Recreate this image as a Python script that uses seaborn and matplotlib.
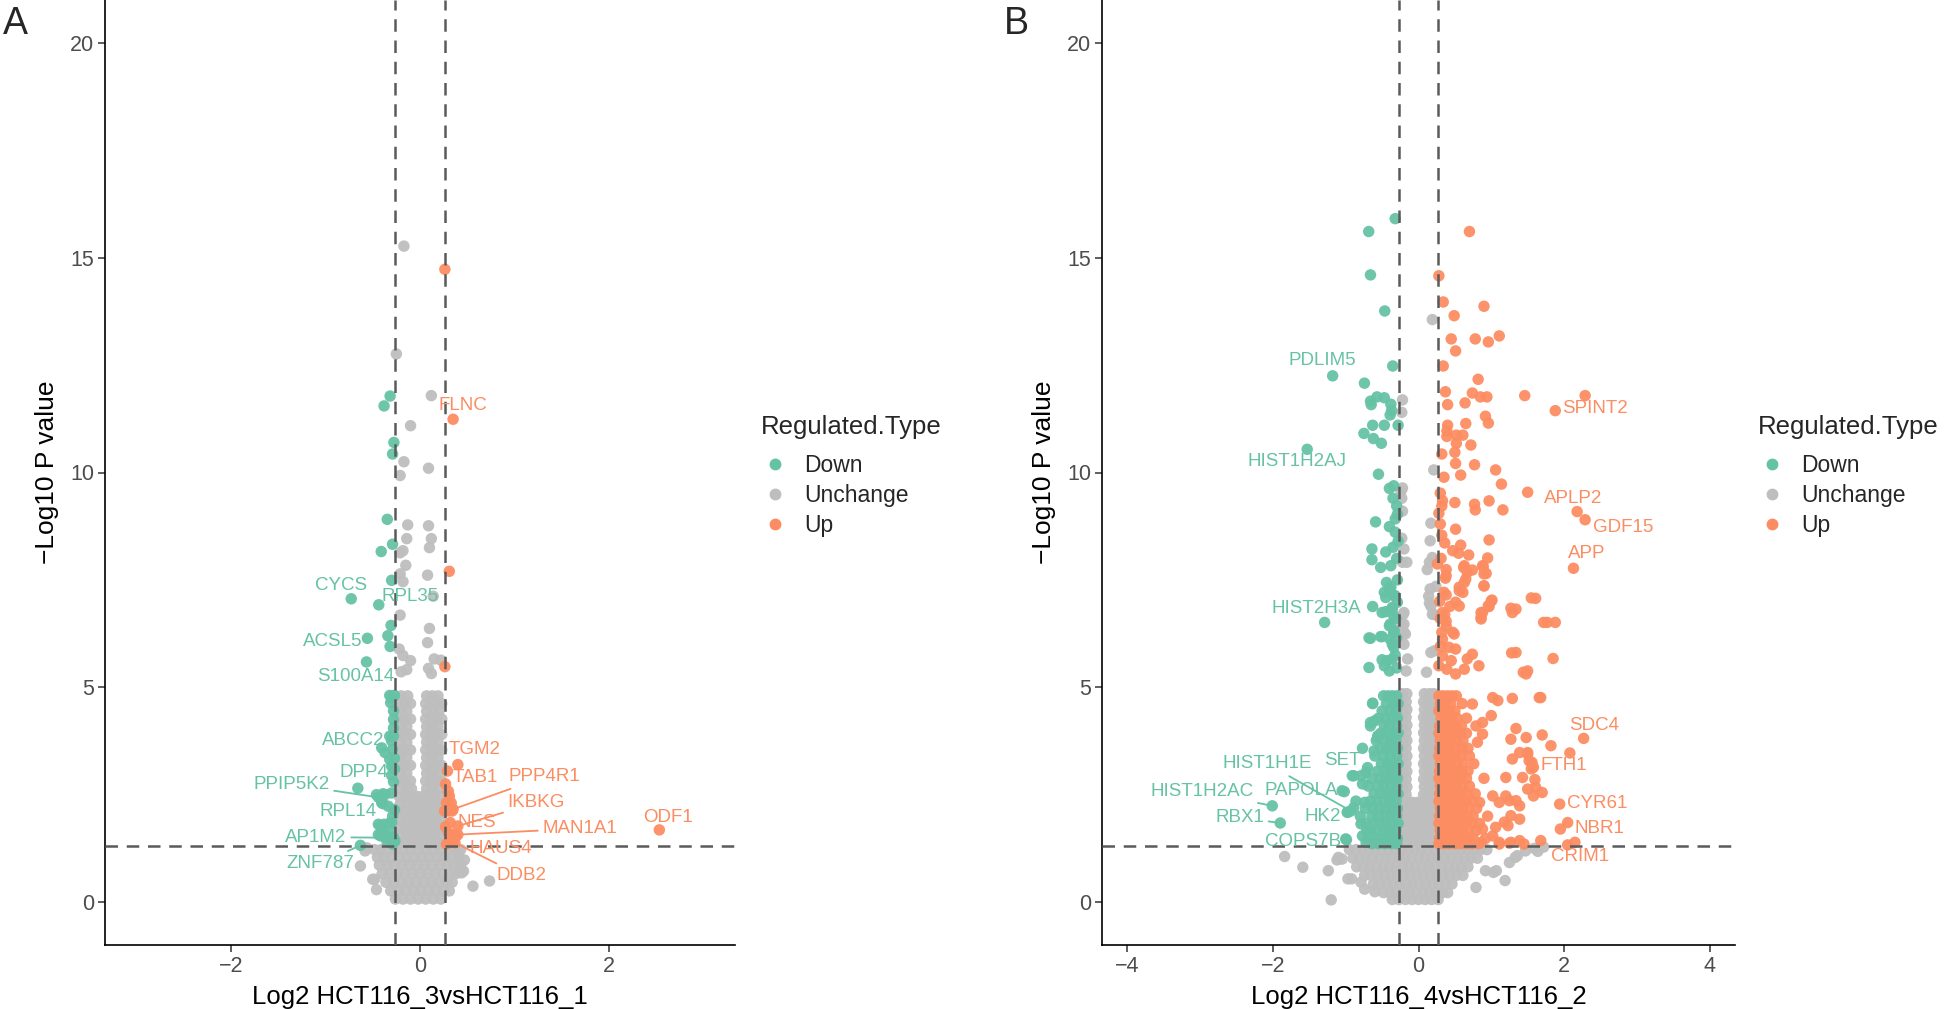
import numpy as np
import pandas as pd
import seaborn as sns
import matplotlib.pyplot as plt
from matplotlib.lines import Line2D

sns.set_theme(style="white")
plt.rcParams['font.family'] = ['Liberation Sans', 'DejaVu Sans']

pal = {"Down": "#66C2A5", "Unchange": "#BEBEBE", "Up": "#FC8D62"}
hue_order = ["Down", "Unchange", "Up"]

# ---------------- panel A : HCT116_3 vs HCT116_1 ----------------
a_down_pts = [
    (-0.316, 11.78), (-0.38, 11.55), (-0.276, 10.70), (-0.29, 10.43), (-0.346, 8.91),
    (-0.29, 8.33), (-0.41, 8.16), (-0.30, 7.49), (-0.727, 7.06), (-0.436, 6.92),
    (-0.306, 6.44), (-0.556, 6.14), (-0.34, 6.20), (-0.316, 5.95), (-0.566, 5.59),
    (-0.32, 4.81), (-0.27, 4.81), (-0.30, 4.76), (-0.31, 4.64), (-0.28, 4.45),
    (-0.28, 4.25), (-0.28, 4.05), (-0.32, 3.86), (-0.28, 3.87), (-0.30, 3.75),
    (-0.405, 3.59), (-0.29, 3.55), (-0.37, 3.48), (-0.32, 3.32), (-0.27, 3.35),
    (-0.30, 3.16), (-0.27, 3.10), (-0.30, 2.95), (-0.28, 2.80), (-0.657, 2.65),
    (-0.46, 2.50), (-0.37, 2.50), (-0.30, 2.54), (-0.44, 2.44), (-0.39, 2.52),
    (-0.405, 2.31), (-0.335, 2.23), (-0.39, 2.29), (-0.27, 2.15), (-0.29, 2.00),
    (-0.44, 1.81), (-0.38, 1.81), (-0.32, 1.84), (-0.30, 1.85), (-0.42, 1.77),
    (-0.32, 1.69), (-0.37, 1.57), (-0.44, 1.57), (-0.416, 1.54), (-0.356, 1.51),
    (-0.28, 1.50), (-0.265, 1.42), (-0.35, 1.42), (-0.29, 1.35), (-0.63, 1.32),
]
a_up_pts = [
    (0.263, 14.73), (0.35, 11.24), (0.31, 7.70), (0.263, 5.48), (0.40, 3.20),
    (0.29, 3.05), (0.27, 2.75), (0.30, 2.58), (0.31, 2.47), (0.28, 2.31),
    (0.33, 2.31), (0.35, 2.16), (0.26, 2.12), (0.30, 2.12), (0.34, 2.12),
    (0.32, 1.85), (0.40, 1.77), (0.27, 1.75), (0.30, 1.61), (0.35, 1.57),
    (0.40, 1.57), (0.38, 1.53), (0.32, 1.46), (0.34, 1.42), (0.37, 1.38),
    (0.28, 1.35), (2.53, 1.68),
]
a_gray_pts = [
    (-0.17, 15.27), (-0.25, 12.76), (0.12, 11.79), (-0.10, 11.09), (-0.17, 10.25),
    (0.09, 10.10), (-0.21, 9.93), (-0.13, 8.78), (0.09, 8.76), (-0.14, 8.46),
    (0.12, 8.46), (-0.18, 8.18), (-0.21, 8.13), (0.10, 8.25), (-0.15, 7.84),
    (-0.21, 7.64), (0.08, 7.61), (-0.18, 7.46), (0.14, 7.12), (-0.21, 6.68),
    (0.10, 6.37), (0.08, 6.04), (-0.22, 5.89), (-0.18, 5.74), (-0.10, 5.62),
    (0.15, 5.66), (0.22, 5.63), (-0.20, 5.36), (0.09, 5.44), (0.12, 5.32),
    (-0.14, 5.41),
    (-0.56, 1.26), (-0.48, 0.53), (-0.46, 0.29), (0.735, 0.49), (0.56, 0.37),
    (0.44, 0.68), (0.40, 1.15), (-0.63, 0.84), (-0.58, 1.19), (0.47, 0.98),
    (0.46, 0.72), (-0.50, 0.53),
]
a_gray_rows = [
    (4.80, [-0.20, -0.13, 0.07, 0.13, 0.19]),
    (4.62, [-0.22, -0.15, -0.10, 0.06, 0.12, 0.18, 0.23]),
    (4.44, [-0.21, -0.14, 0.07, 0.14, 0.20]),
    (4.26, [-0.22, -0.16, -0.10, 0.06, 0.12, 0.18, 0.23]),
    (4.08, [-0.21, -0.14, 0.07, 0.13, 0.19]),
    (3.90, [-0.22, -0.16, -0.10, 0.06, 0.12, 0.18, 0.23]),
    (3.72, [-0.21, -0.14, 0.07, 0.13, 0.19]),
    (3.54, [-0.22, -0.16, -0.10, 0.06, 0.12, 0.18, 0.23]),
    (3.36, [-0.21, -0.14, 0.07, 0.13, 0.19]),
    (3.18, [-0.22, -0.16, -0.10, 0.06, 0.12, 0.18, 0.23]),
    (3.00, [-0.21, -0.14, 0.07, 0.13, 0.19]),
    (2.82, [-0.22, -0.16, -0.10, 0.06, 0.12, 0.18, 0.23]),
    (2.64, [-0.21, -0.14, -0.09, 0.07, 0.13, 0.19]),
    (2.46, [-0.22, -0.15, -0.09, -0.03, 0.03, 0.09, 0.15, 0.21]),
    (2.28, [-0.21, -0.14, -0.08, -0.02, 0.04, 0.10, 0.16, 0.22]),
    (2.10, [-0.22, -0.15, -0.09, -0.03, 0.03, 0.09, 0.15, 0.21]),
    (1.92, [-0.21, -0.14, -0.08, -0.02, 0.04, 0.10, 0.16, 0.22]),
    (1.74, [-0.22, -0.15, -0.09, -0.03, 0.03, 0.09, 0.15, 0.21]),
    (1.56, [-0.21, -0.14, -0.08, -0.02, 0.04, 0.10, 0.16, 0.22]),
    (1.38, [-0.22, -0.15, -0.09, -0.03, 0.03, 0.09, 0.15, 0.21]),
    (1.22, [-0.48, -0.41, -0.34, -0.26, -0.18, -0.10, -0.02, 0.06, 0.14, 0.22, 0.30, 0.37, 0.43]),
    (1.04, [-0.45, -0.38, -0.30, -0.22, -0.14, -0.06, 0.02, 0.10, 0.18, 0.26, 0.34, 0.41]),
    (0.86, [-0.43, -0.35, -0.27, -0.19, -0.11, -0.03, 0.05, 0.13, 0.21, 0.29, 0.36, 0.43]),
    (0.66, [-0.40, -0.32, -0.24, -0.16, -0.08, 0.00, 0.08, 0.16, 0.24, 0.32, 0.38]),
    (0.46, [-0.36, -0.28, -0.20, -0.12, -0.04, 0.04, 0.12, 0.20, 0.28, 0.34]),
    (0.26, [-0.31, -0.23, -0.15, -0.07, 0.01, 0.09, 0.17, 0.25, 0.31]),
    (0.07, [-0.26, -0.18, -0.10, -0.02, 0.06, 0.14, 0.22]),
]
a_label_names = ["CYCS", "RPL35", "ACSL5", "S100A14", "ABCC2", "DPP4", "PPIP5K2", "RPL14",
                 "AP1M2", "ZNF787", "FLNC", "TGM2", "TAB1", "PPP4R1", "IKBKG", "NES",
                 "MAN1A1", "HAUS4", "DDB2", "ODF1"]
a_label_types = ["Down"] * 10 + ["Up"] * 10
a_label_pos = [(-0.83, 7.36), (-0.10, 7.12), (-0.92, 6.07), (-0.68, 5.26), (-0.71, 3.76),
               (-0.59, 3.01), (-1.36, 2.74), (-0.76, 2.11), (-1.10, 1.51), (-1.05, 0.90),
               (0.45, 11.55), (0.58, 3.54), (0.58, 2.89), (1.32, 2.92), (1.23, 2.31),
               (0.60, 1.86), (1.69, 1.71), (0.85, 1.24), (1.07, 0.61), (2.62, 1.96)]
a_label_seg = [None, None, None, None, None, None, (-0.45, 2.44), None, (-0.42, 1.50),
               (-0.63, 1.32), None, None, None, (0.35, 2.16), (0.40, 1.77), None,
               (0.40, 1.57), None, (0.37, 1.38), None]

# ---------------- panel B : HCT116_4 vs HCT116_2 ----------------
b_down_pts = [
    (-0.32, 15.91), (-0.684, 15.61), (-0.66, 14.60), (-0.464, 13.76), (-0.354, 12.48),
    (-1.18, 12.25), (-0.743, 12.08), (-0.66, 11.66), (-0.57, 11.76), (-0.47, 11.74),
    (-0.38, 11.59), (-0.65, 11.58), (-0.37, 11.44), (-0.39, 11.34), (-0.63, 11.10),
    (-0.47, 11.10), (-0.28, 11.10), (-0.75, 10.91), (-0.62, 10.79), (-0.51, 10.68),
    (-1.53, 10.54), (-0.55, 9.96), (-0.34, 9.69), (-0.40, 9.63), (-0.35, 9.40),
    (-0.30, 9.22), (-0.29, 9.03), (-0.32, 8.92), (-0.59, 8.85), (-0.40, 8.74),
    (-0.32, 8.61), (-0.64, 8.22), (-0.45, 8.15), (-0.35, 8.26), (-0.64, 7.97),
    (-0.52, 7.79), (-0.38, 7.83), (-0.44, 7.44), (-0.38, 7.33), (-0.32, 7.13),
    (-0.45, 7.09), (-0.63, 6.88), (-0.45, 6.76), (-0.36, 6.86), (-0.34, 6.66),
    (-1.29, 6.51), (-0.40, 6.43), (-0.34, 6.28), (-0.66, 6.14), (-0.50, 6.18),
    (-0.36, 6.00), (-0.47, 7.21), (-0.40, 7.29), (-0.335, 7.13), (-0.50, 6.74),
    (-0.36, 6.82), (-0.29, 6.98), (-0.39, 6.47), (-0.335, 6.32), (-0.39, 6.12),
    (-0.34, 5.93), (-0.68, 6.15), (-0.52, 6.18), (-0.50, 5.64), (-0.43, 5.62),
    (-0.36, 5.66), (-0.47, 5.50), (-0.40, 5.38), (-0.68, 5.46), (-0.30, 5.45),
    (-0.32, 5.75), (-0.30, 6.15), (-0.31, 6.60), (-0.29, 7.50), (-0.30, 8.00),
    (-0.28, 8.40),
    (-2.01, 2.24), (-1.90, 1.84), (-1.02, 2.57), (-0.89, 2.94), (-0.97, 2.09),
    (-0.99, 1.45), (-0.77, 3.58), (-0.63, 4.63), (-0.56, 3.83), (-0.60, 4.22),
    (-0.72, 3.02), (-0.77, 2.75), (-0.74, 2.32), (-0.71, 1.66), (-0.72, 1.39),
    (-0.66, 4.18), (-0.56, 3.87), (-0.61, 3.52), (-0.91, 2.94), (-0.79, 2.94),
    (-0.70, 3.13), (-1.05, 2.59), (-0.89, 2.20), (-0.98, 2.09), (-0.79, 1.82),
    (-0.77, 1.54), (-1.00, 1.47), (-0.93, 2.12),
]
b_down_rows = [
    (4.80, [-0.30, -0.36, -0.42, -0.48]),
    (4.62, [-0.28, -0.35, -0.44, -0.63]),
    (4.45, [-0.31, -0.39, -0.50]),
    (4.28, [-0.29, -0.36, -0.45, -0.55]),
    (4.10, [-0.30, -0.40, -0.47, -0.66]),
    (3.93, [-0.28, -0.35, -0.43, -0.52]),
    (3.76, [-0.31, -0.38, -0.46, -0.58]),
    (3.58, [-0.29, -0.36, -0.44, -0.52]),
    (3.40, [-0.30, -0.39, -0.48, -0.60]),
    (3.22, [-0.28, -0.35, -0.43, -0.51]),
    (3.05, [-0.31, -0.38, -0.46, -0.56]),
    (2.88, [-0.29, -0.37, -0.45, -0.53, -0.64]),
    (2.70, [-0.30, -0.38, -0.47, -0.56, -0.69]),
    (2.52, [-0.28, -0.36, -0.44, -0.52, -0.61]),
    (2.35, [-0.31, -0.39, -0.47, -0.57, -0.66, -0.86]),
    (2.18, [-0.29, -0.36, -0.45, -0.54, -0.63, -0.73]),
    (2.00, [-0.30, -0.38, -0.46, -0.55, -0.64, -0.80]),
    (1.83, [-0.28, -0.37, -0.45, -0.53, -0.62, -0.72]),
    (1.66, [-0.31, -0.39, -0.47, -0.56, -0.66]),
    (1.48, [-0.29, -0.36, -0.44, -0.52, -0.60, -0.69]),
    (1.36, [-0.30, -0.38, -0.46, -0.55, -0.64]),
]
b_up_pts = [
    (0.70, 15.61), (0.28, 14.58), (0.34, 13.97), (0.90, 13.87), (0.49, 13.65),
    (0.45, 13.11), (0.78, 13.11), (0.96, 13.04), (1.11, 13.18), (0.51, 12.83),
    (0.34, 12.48), (0.82, 12.17), (0.37, 11.88), (0.74, 11.85), (0.85, 11.76),
    (0.94, 11.76), (1.46, 11.79), (2.29, 11.79), (0.40, 11.58), (0.64, 11.62),
    (1.88, 11.44), (0.92, 11.31), (0.96, 11.15), (0.65, 11.14), (0.40, 11.10),
    (0.39, 10.97), (0.39, 10.84), (0.52, 10.87), (0.61, 10.87), (0.52, 10.68),
    (0.72, 10.64), (0.32, 10.43), (0.50, 10.47), (0.51, 10.21), (0.77, 10.18),
    (1.06, 10.06), (0.35, 9.89), (0.58, 9.94), (1.14, 9.73), (1.50, 9.54),
    (2.18, 9.09), (2.29, 8.90), (0.30, 9.52), (0.33, 9.34), (0.50, 9.30),
    (0.77, 9.26), (0.97, 9.34), (1.16, 9.13), (0.78, 9.13), (0.28, 9.05),
    (0.32, 9.22), (0.51, 8.68), (0.97, 8.43), (0.32, 8.54), (0.36, 8.36),
    (0.58, 8.31), (0.47, 8.18), (0.55, 8.12), (0.69, 8.08), (0.95, 8.01),
    (2.13, 7.77), (0.26, 7.87), (0.38, 7.74), (0.62, 7.79), (0.74, 7.73),
    (0.89, 7.81), (0.93, 7.65), (0.37, 7.54), (0.65, 7.52), (0.90, 7.36),
    (0.56, 7.33), (0.61, 7.21), (0.38, 7.15), (1.55, 7.08), (1.01, 7.03),
    (0.97, 6.88), (0.56, 6.89), (0.43, 6.88), (1.27, 6.84), (1.29, 6.74),
    (0.86, 6.74), (0.86, 6.63), (0.36, 6.69), (0.38, 6.54), (1.72, 6.51),
    (1.88, 6.51), (0.32, 6.28), (0.47, 6.28), (0.38, 7.60), (0.35, 7.21),
    (0.51, 6.98), (0.33, 6.74), (0.38, 6.43), (0.49, 6.24), (0.33, 6.12),
    (0.42, 5.93), (0.51, 5.89), (0.33, 5.73), (0.45, 5.62), (0.28, 5.50),
    (0.39, 5.42), (0.51, 5.31), (0.63, 5.42), (0.74, 5.77), (0.83, 5.50),
    (0.67, 5.66), (0.63, 7.44), (0.67, 7.67), (0.63, 7.83), (0.88, 7.83),
    (0.90, 7.64), (0.90, 7.36), (0.56, 7.25), (1.00, 7.01), (0.96, 6.90),
    (0.88, 6.74), (0.86, 6.59), (1.34, 6.82), (1.61, 7.07), (1.77, 6.51),
    (1.34, 5.81), (1.50, 5.38), (1.48, 5.31), (1.28, 5.80), (1.85, 5.67),
    (1.44, 5.35), (0.30, 5.95), (0.30, 6.60), (0.29, 7.00), (0.31, 8.00),
    (0.30, 8.80),
    (0.74, 4.61), (1.02, 4.76), (1.09, 4.69), (1.29, 4.74), (1.66, 4.76),
    (1.00, 4.34), (0.88, 4.18), (0.79, 4.10), (0.88, 3.91), (0.81, 3.72),
    (1.34, 4.04), (1.27, 3.79), (1.48, 3.83), (1.39, 3.48), (1.50, 3.48),
    (1.82, 3.64), (1.29, 3.33), (1.52, 3.29), (1.55, 3.10), (1.20, 2.90),
    (1.43, 2.90), (1.61, 2.67), (1.50, 2.63), (1.02, 2.47), (0.84, 2.32),
    (1.11, 2.32), (1.20, 2.47), (1.25, 2.36), (1.34, 2.36), (1.39, 2.24),
    (1.27, 2.01), (1.39, 1.93), (1.18, 1.86), (1.23, 1.78), (1.06, 1.74),
    (1.02, 1.54), (0.88, 1.70), (0.86, 1.39), (1.11, 1.39), (1.27, 1.39),
    (1.39, 1.43), (1.68, 1.43), (2.27, 3.81), (2.08, 3.47), (1.70, 3.89),
    (1.68, 4.76), (1.58, 3.14), (1.56, 3.25), (1.50, 3.45), (1.60, 2.85),
    (1.70, 2.55), (1.58, 2.47), (1.94, 2.28), (2.05, 1.85), (1.95, 1.70),
    (2.05, 1.33), (2.15, 1.39), (1.45, 1.35), (1.25, 1.37), (1.11, 1.35),
]
b_up_rows = [
    (4.80, [0.28, 0.34, 0.40, 0.46, 0.52]),
    (4.62, [0.30, 0.37, 0.44, 0.60]),
    (4.45, [0.28, 0.35, 0.42, 0.50]),
    (4.28, [0.31, 0.38, 0.45, 0.53, 0.66]),
    (4.10, [0.29, 0.36, 0.43, 0.51, 0.59]),
    (3.93, [0.28, 0.35, 0.42, 0.50, 0.58, 0.66]),
    (3.76, [0.30, 0.37, 0.44, 0.52, 0.61]),
    (3.58, [0.29, 0.36, 0.43, 0.51, 0.60, 0.68]),
    (3.40, [0.28, 0.35, 0.42, 0.50, 0.58, 0.70]),
    (3.22, [0.30, 0.37, 0.44, 0.52, 0.61, 0.76]),
    (3.05, [0.29, 0.36, 0.43, 0.51, 0.59, 0.68]),
    (2.88, [0.28, 0.35, 0.42, 0.50, 0.58, 0.66, 0.90]),
    (2.70, [0.30, 0.37, 0.44, 0.52, 0.60, 0.70]),
    (2.52, [0.29, 0.36, 0.43, 0.51, 0.59, 0.67, 0.78]),
    (2.35, [0.28, 0.35, 0.42, 0.50, 0.58, 0.66, 0.74]),
    (2.18, [0.30, 0.37, 0.44, 0.52, 0.60, 0.68, 0.80]),
    (2.00, [0.29, 0.36, 0.43, 0.51, 0.59, 0.67, 0.75, 0.95]),
    (1.83, [0.28, 0.35, 0.42, 0.50, 0.58, 0.66, 0.74, 0.84]),
    (1.66, [0.30, 0.37, 0.44, 0.52, 0.60, 0.68, 0.79]),
    (1.48, [0.29, 0.36, 0.43, 0.51, 0.59, 0.67, 0.75, 0.92]),
    (1.36, [0.28, 0.35, 0.42, 0.50, 0.58, 0.66, 0.74, 0.83]),
]
b_gray_pts = [
    (0.19, 13.56), (-0.22, 11.69), (-0.23, 11.40), (0.21, 10.06), (-0.22, 9.64),
    (-0.24, 9.57), (-0.23, 9.40), (-0.22, 9.10), (0.17, 8.82), (-0.23, 8.47),
    (0.16, 8.41), (-0.20, 8.22), (0.19, 8.02), (-0.22, 7.91), (0.15, 7.91),
    (-0.16, 7.91), (0.12, 7.74), (0.16, 7.29), (0.14, 7.12), (0.15, 6.96),
    (0.24, 7.35), (-0.21, 6.70), (0.22, 6.69), (-0.23, 6.43), (-0.20, 6.28),
    (-0.20, 6.74), (-0.20, 6.47), (-0.18, 6.24), (-0.20, 6.00), (-0.15, 5.66),
    (-0.17, 5.38), (0.17, 6.89), (0.19, 6.70), (0.17, 5.81), (0.22, 5.85),
    (0.11, 5.35),
    (-1.84, 1.06), (-1.59, 0.81), (-1.20, 0.05), (-1.24, 0.73), (-1.10, 1.04),
    (-1.05, 1.00), (-0.92, 0.54), (-0.79, 0.46), (-0.60, 0.24), (-0.74, 0.30),
    (-0.97, 0.54), (-1.12, 0.98), (1.19, 0.50), (0.92, 0.73), (1.03, 0.69),
    (0.79, 0.34), (1.33, 1.04), (1.47, 1.19), (1.64, 1.18), (1.72, 1.28),
    (1.25, 0.92), (1.07, 0.73), (1.36, 1.08), (1.59, 1.25),
]
b_gray_rows = [
    (4.85, [-0.22, -0.16, 0.08, 0.15, 0.21]),
    (4.66, [-0.23, -0.17, 0.07, 0.13, 0.19]),
    (4.48, [-0.22, -0.16, 0.08, 0.15, 0.21]),
    (4.30, [-0.23, -0.17, 0.07, 0.13, 0.19]),
    (4.12, [-0.22, -0.16, 0.08, 0.15, 0.21]),
    (3.94, [-0.23, -0.17, 0.07, 0.13, 0.19]),
    (3.76, [-0.22, -0.16, 0.08, 0.15, 0.21]),
    (3.58, [-0.23, -0.17, 0.07, 0.13, 0.19]),
    (3.40, [-0.22, -0.16, 0.08, 0.15, 0.21]),
    (3.22, [-0.23, -0.17, 0.07, 0.13, 0.19]),
    (3.04, [-0.22, -0.16, 0.08, 0.15, 0.21]),
    (2.86, [-0.23, -0.17, 0.07, 0.13, 0.19]),
    (2.68, [-0.22, -0.16, 0.08, 0.15, 0.21]),
    (2.50, [-0.23, -0.17, 0.07, 0.13, 0.19]),
    (2.32, [-0.22, -0.15, -0.08, -0.01, 0.06, 0.13, 0.20]),
    (2.14, [-0.23, -0.16, -0.09, -0.02, 0.05, 0.12, 0.19]),
    (1.96, [-0.22, -0.15, -0.08, -0.01, 0.06, 0.13, 0.20]),
    (1.78, [-0.23, -0.16, -0.09, -0.02, 0.05, 0.12, 0.19]),
    (1.60, [-0.22, -0.15, -0.08, -0.01, 0.06, 0.13, 0.20]),
    (1.42, [-0.23, -0.16, -0.09, -0.02, 0.05, 0.12, 0.19]),
    (1.22, [-0.95, -0.86, -0.77, -0.68, -0.59, -0.50, -0.41, -0.32, -0.23, -0.14, -0.05,
            0.04, 0.13, 0.22, 0.31, 0.40, 0.49, 0.58, 0.67, 0.76, 0.85, 0.94]),
    (1.02, [-0.90, -0.81, -0.72, -0.63, -0.54, -0.45, -0.36, -0.27, -0.18, -0.09, 0.00,
            0.09, 0.18, 0.27, 0.36, 0.45, 0.54, 0.63, 0.72, 0.81]),
    (0.82, [-0.85, -0.76, -0.67, -0.58, -0.49, -0.40, -0.31, -0.22, -0.13, -0.04, 0.05,
            0.14, 0.23, 0.32, 0.41, 0.50, 0.59, 0.68]),
    (0.62, [-0.74, -0.65, -0.56, -0.47, -0.38, -0.29, -0.20, -0.11, -0.02, 0.07, 0.16,
            0.25, 0.34, 0.43, 0.52, 0.61]),
    (0.42, [-0.62, -0.53, -0.44, -0.35, -0.26, -0.17, -0.08, 0.01, 0.10, 0.19, 0.28,
            0.37, 0.46]),
    (0.22, [-0.48, -0.39, -0.30, -0.21, -0.12, -0.03, 0.06, 0.15, 0.24, 0.33, 0.40]),
    (0.06, [-0.36, -0.27, -0.18, -0.09, 0.00, 0.09, 0.18, 0.27]),
]
b_label_names = ["PDLIM5", "HIST1H2AJ", "HIST2H3A", "HIST1H1E", "SET", "HIST1H2AC",
                 "PAPOLA", "RBX1", "HK2", "COPS7B", "SPINT2", "APLP2", "GDF15", "APP",
                 "SDC4", "FTH1", "CYR61", "NBR1", "CRIM1"]
b_label_types = ["Down"] * 10 + ["Up"] * 9
b_label_pos = [(-1.32, 12.60), (-1.67, 10.25), (-1.41, 6.84), (-2.08, 3.22), (-1.05, 3.29),
               (-2.98, 2.57), (-1.61, 2.60), (-2.46, 1.97), (-1.31, 2.00), (-1.59, 1.41),
               (2.43, 11.49), (2.13, 9.39), (2.82, 8.71), (2.31, 8.12), (2.41, 4.11),
               (2.00, 3.19), (2.45, 2.29), (2.49, 1.71), (2.22, 1.05)]
b_label_seg = [None, None, None, (-0.93, 2.12), None, (-2.01, 2.24), None, (-1.90, 1.84),
               None, None, None, None, None, None, None, None, None, None, None]


def build_frame(gray_pts, gray_rows, down_pts, down_rows, up_pts, up_rows):
    recs = []
    for x, y in gray_pts:
        recs.append((x, y, "Unchange"))
    for y, xs in gray_rows:
        for x in xs:
            recs.append((x, y, "Unchange"))
    for x, y in down_pts:
        recs.append((x, y, "Down"))
    for y, xs in down_rows:
        for x in xs:
            recs.append((x, y, "Down"))
    for x, y in up_pts:
        recs.append((x, y, "Up"))
    for y, xs in up_rows:
        for x in xs:
            recs.append((x, y, "Up"))
    return pd.DataFrame(recs, columns=["log2FC", "logP", "Regulated.Type"])


df_a = build_frame(a_gray_pts, a_gray_rows, a_down_pts, [], a_up_pts, [])
df_b = build_frame(b_gray_pts, b_gray_rows, b_down_pts, b_down_rows, b_up_pts, b_up_rows)

fig = plt.figure(figsize=(19.44, 10.09), dpi=100)
W, H = 1944, 1009
ax_a = fig.add_axes([105 / W, 64 / H, 630 / W, 945 / H])
ax_b = fig.add_axes([1102 / W, 64 / H, 633 / W, 945 / H])


def draw_panel(ax, df, xlim, xticks, xlabel, names, types, pos, segs, leg_x, tag, tag_x):
    sns.scatterplot(data=df, x="log2FC", y="logP", hue="Regulated.Type",
                    palette=pal, hue_order=hue_order, s=68, linewidth=0,
                    alpha=0.95, legend=False, ax=ax, zorder=2)
    fc = np.log2(1.2)
    for v in (-fc, fc):
        ax.axvline(v, color="#5a5a5a", lw=1.8, ls=(0, (5, 3.5)), zorder=3)
    ax.axhline(-np.log10(0.05), color="#5a5a5a", lw=1.8, ls=(0, (5, 3.5)), zorder=3)

    for name, t, (tx, ty), seg in zip(names, types, pos, segs):
        col = pal[t]
        if seg is None:
            ax.text(tx, ty, name, color=col, fontsize=13.5, ha="center", va="center", zorder=4)
        else:
            ax.annotate(name, xy=seg, xytext=(tx, ty), color=col, fontsize=13.5,
                        ha="center", va="center", zorder=4,
                        arrowprops=dict(arrowstyle="-", color=col, lw=1.3,
                                        shrinkA=1, shrinkB=3))

    ax.set_xlim(*xlim)
    ax.set_ylim(-1, 21)
    ax.set_xticks(xticks)
    ax.set_yticks([0, 5, 10, 15, 20])
    ax.set_xlabel(xlabel, fontsize=18.5, color="black", labelpad=6)
    ax.set_ylabel("\u2212Log10 P value", fontsize=19, color="black", labelpad=8)
    ax.tick_params(axis="both", which="major", length=5, width=1.1, color="#333333",
                   labelsize=15.5, labelcolor="#4D4D4D", pad=3, direction="out",
                   bottom=True, left=True)
    sns.despine(ax=ax)
    for sp in ("left", "bottom"):
        ax.spines[sp].set_color("black")
        ax.spines[sp].set_linewidth(1.2)

    # legend: title as its own text, keys below it
    fig.text(leg_x, 1 - 427 / H, "Regulated.Type", fontsize=18.5, va="center", ha="left")
    handles = [Line2D([], [], marker="o", ls="", color=pal[h], markersize=7.5) for h in hue_order]
    ax.legend(handles, hue_order, loc="upper left",
              bbox_to_anchor=(leg_x + 3 / W, 1 - 454 / H), bbox_transform=fig.transFigure,
              frameon=False, borderpad=0, borderaxespad=0,
              handlelength=1.0, handletextpad=0.75, labelspacing=0.3, fontsize=16.5)
    fig.text(tag_x, 1 - 24 / H, tag, fontsize=27, va="center", ha="left")


draw_panel(ax_a, df_a, (-3.33, 3.33), [-2, 0, 2], "Log2 HCT116_3vsHCT116_1",
           a_label_names, a_label_types, a_label_pos, a_label_seg,
           761 / W, "A", 3 / W)
draw_panel(ax_b, df_b, (-4.35, 4.35), [-4, -2, 0, 2, 4], "Log2 HCT116_4vsHCT116_2",
           b_label_names, b_label_types, b_label_pos, b_label_seg,
           1758 / W, "B", 1004 / W)

fig.savefig("out.png", dpi=100)
